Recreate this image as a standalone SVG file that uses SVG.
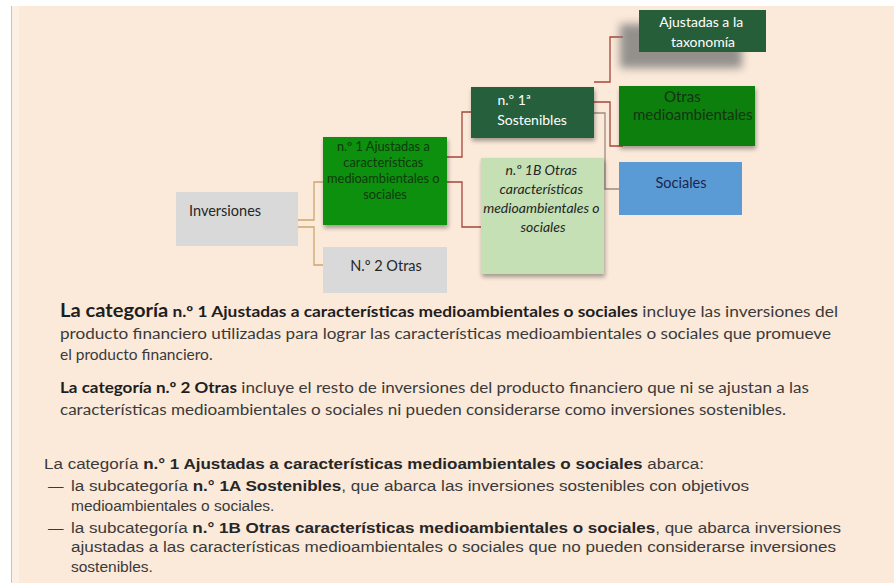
<svg xmlns="http://www.w3.org/2000/svg" width="894" height="583" viewBox="0 0 894 583">
<style>
.lbl{font-family:Lato,"Open Sans","Liberation Sans",sans-serif;text-anchor:middle}
.p{font-family:Lato,"Open Sans","Liberation Sans",sans-serif;font-size:15.5px;fill:#3a3a3a}
.b{font-weight:bold;fill:#1e1e1e}
.a{font-family:"Liberation Sans",Arial,sans-serif;font-size:15.5px;fill:#3a3a3a}
.ab{font-weight:bold;fill:#262626}
.c1{fill:none;stroke:#c9a86a;stroke-width:1.3}
.c2{fill:none;stroke:#a4473a;stroke-width:1.3}
.c3{fill:none;stroke:#a08a80;stroke-width:1.3}
</style>
<defs>
<filter id="sh" x="-20%" y="-20%" width="140%" height="150%">
<feDropShadow dx="1" dy="3" stdDeviation="2" flood-color="#000" flood-opacity="0.35"/>
</filter>
<filter id="blur" x="-30%" y="-30%" width="160%" height="160%">
<feGaussianBlur stdDeviation="4"/>
</filter>
<clipPath id="clipOtras"><rect x="619" y="86" width="136" height="60"/></clipPath>
</defs>
<rect x="0" y="0" width="894" height="583" fill="#ffffff"/>
<rect x="11" y="6" width="883" height="577" fill="#fbe9d9"/>
<rect x="11" y="6" width="8" height="577" fill="#fcefe4"/>
<line x1="11.5" y1="6" x2="11.5" y2="583" stroke="#cbc3bb" stroke-width="1"/>

<g id="connectors">
<path class="c1" d="M298,220 H314 V182 H323"/>
<path class="c1" d="M298,227 H314 V265 H323"/>
<path class="c2" d="M447,157 H462 V112 H472"/>
<path class="c2" d="M447,182 H462 V227 H481"/>
<path class="c2" d="M594,82 H610 V37 H623"/>
<path class="c2" d="M594,102 H610 V146 H623"/>
<path class="c3" d="M594,113 H605 V189 H619"/>
</g>

<g id="inversiones">
<rect x="176" y="192" width="122" height="54" fill="#d9d9d9"/>
<text x="189" y="216" font-family="Lato,'Open Sans',sans-serif" font-size="14.5" fill="#262626">Inversiones</text>
</g>

<g id="n1">
<rect x="323" y="137" width="124" height="88" fill="#089008" filter="url(#sh)"/>
<text class="lbl" font-size="12.8" fill="#103a10">
<tspan x="385" y="151">n.º 1 Ajustadas a</tspan>
<tspan x="385" y="167">características</tspan>
<tspan x="385" y="183">medioambientales o</tspan>
<tspan x="385" y="199">sociales</tspan>
</text>
</g>

<g id="n2">
<rect x="323" y="247" width="124" height="46" fill="#d9d9d9"/>
<text class="lbl" x="386" y="271" font-size="14.5" fill="#262626">N.º 2 Otras</text>
</g>

<g id="n1a">
<rect x="471" y="87" width="123" height="51" fill="#275e3a" filter="url(#sh)"/>
<text class="lbl" font-size="14" fill="#ffffff">
<tspan x="516" y="105">n.º 1ª</tspan>
<tspan x="532" y="125">Sostenibles</tspan>
</text>
</g>

<g id="n1b">
<rect x="481" y="158" width="123" height="116" fill="#c5e0b4" filter="url(#sh)"/>
<text class="lbl" font-size="14" font-style="italic" fill="#262626">
<tspan x="543" y="175">n.º 1B Otras</tspan>
<tspan x="543" y="194">características</tspan>
<tspan x="543" y="213">medioambientales o</tspan>
<tspan x="543" y="232">sociales</tspan>
</text>
</g>

<g id="taxonomia">
<rect x="620" y="24" width="122" height="44" fill="#7a7a7a" opacity="0.8" filter="url(#blur)"/>
<rect x="639" y="10" width="127" height="42" fill="#275e3a"/>
<text class="lbl" font-size="14" fill="#ffffff">
<tspan x="703" y="27">Ajustadas a la</tspan>
<tspan x="703" y="47">taxonomía</tspan>
</text>
</g>

<g id="otras-medio">
<rect x="619" y="86" width="136" height="60" fill="#0a7f0a" filter="url(#sh)"/>
<text font-family="Lato,'Open Sans',sans-serif" font-size="15" fill="#143414" clip-path="url(#clipOtras)">
<tspan x="664" y="102">Otras</tspan>
<tspan x="633" y="120">medioambientales</tspan>
</text>
</g>

<g id="sociales">
<rect x="619" y="162" width="123" height="53" fill="#5b9bd5"/>
<text class="lbl" x="681" y="188" font-size="14.5" fill="#1a2550">Sociales</text>
</g>

<g id="texto1">
<text class="p" x="60" y="317" textLength="778" lengthAdjust="spacingAndGlyphs"><tspan class="b" font-size="18">La categoría</tspan><tspan class="b"> n.º 1 Ajustadas a características medioambientales o sociales</tspan> incluye las inversiones del</text>
<text class="p" x="60" y="339" textLength="771" lengthAdjust="spacingAndGlyphs">producto financiero utilizadas para lograr las características medioambientales o sociales que promueve</text>
<text class="p" x="60" y="360">el producto financiero.</text>
<text class="p" x="60" y="393" textLength="749" lengthAdjust="spacingAndGlyphs"><tspan class="b">La categoría n.º 2 Otras</tspan> incluye el resto de inversiones del producto financiero que ni se ajustan a las</text>
<text class="p" x="60" y="415" textLength="726" lengthAdjust="spacingAndGlyphs">características medioambientales o sociales ni pueden considerarse como inversiones sostenibles.</text>
</g>

<g id="texto2">
<text class="a" x="44" y="469" textLength="660" lengthAdjust="spacingAndGlyphs">La categoría <tspan class="ab">n.° 1 Ajustadas a características medioambientales o sociales</tspan> abarca:</text>
<text class="a" x="48" y="491">—</text>
<text class="a" x="71" y="491" textLength="678" lengthAdjust="spacingAndGlyphs">la subcategoría <tspan class="ab">n.° 1A Sostenibles</tspan>, que abarca las inversiones sostenibles con objetivos</text>
<text class="a" x="71" y="511">medioambientales o sociales.</text>
<text class="a" x="48" y="533">—</text>
<text class="a" x="71" y="533" textLength="770" lengthAdjust="spacingAndGlyphs">la subcategoría <tspan class="ab">n.° 1B Otras características medioambientales o sociales</tspan>, que abarca inversiones</text>
<text class="a" x="71" y="552" textLength="765" lengthAdjust="spacingAndGlyphs">ajustadas a las características medioambientales o sociales que no pueden considerarse inversiones</text>
<text class="a" x="71" y="572">sostenibles.</text>
</g>
</svg>
